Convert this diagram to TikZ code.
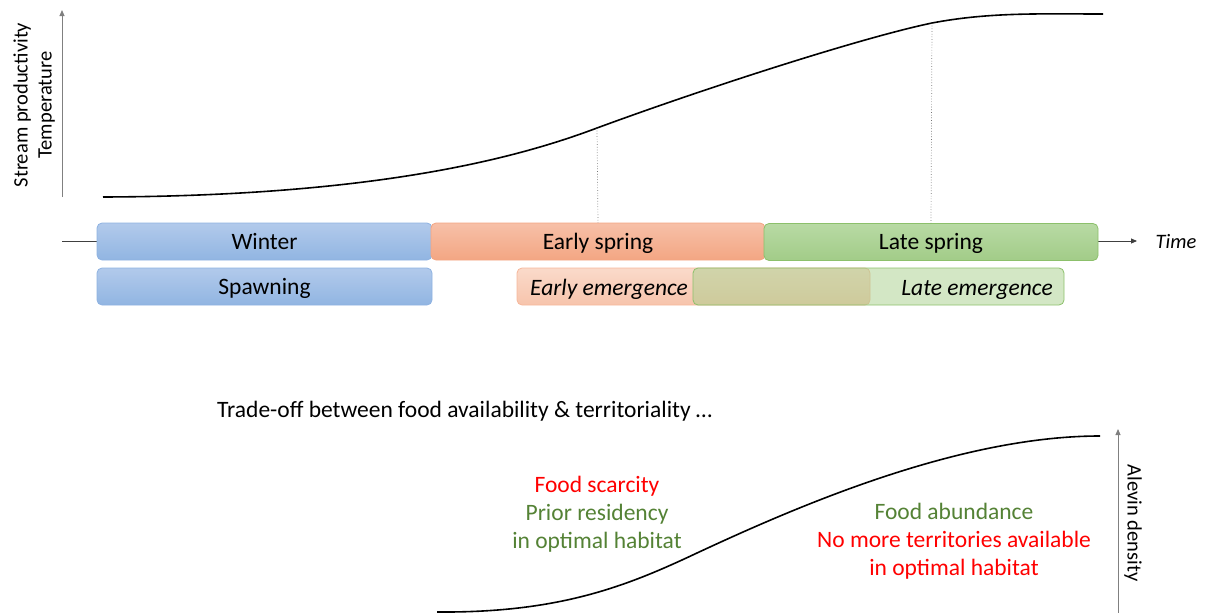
\documentclass[tikz,border=0pt]{standalone}
\usepackage{fontspec}
\setmainfont{Carlito}
\usetikzlibrary{arrows.meta}
\definecolor{winTop}{RGB}{178,202,235}
\definecolor{winBot}{RGB}{145,181,226}
\definecolor{winBd}{RGB}{142,178,225}
\definecolor{esTop}{RGB}{247,192,168}
\definecolor{esBot}{RGB}{243,166,131}
\definecolor{esBd}{RGB}{244,165,130}
\definecolor{lsTop}{RGB}{184,218,164}
\definecolor{lsBot}{RGB}{162,204,136}
\definecolor{lsBd}{RGB}{140,192,107}
\definecolor{eeTop}{RGB}{250,218,202}
\definecolor{eeBot}{RGB}{247,196,172}
\definecolor{leFill}{RGB}{168,208,140}
\definecolor{txtRed}{RGB}{255,0,0}
\definecolor{txtGreen}{RGB}{84,130,53}
\begin{document}
\begin{tikzpicture}[x=1pt,y=-1pt,
  lbl/.style={font=\fontsize{23.5}{28}\selectfont, inner sep=0pt, text height=16pt, text depth=1pt},
  axlbl/.style={font=\fontsize{20.5}{24}\selectfont, inner sep=0pt, text height=14pt, text depth=1pt},
  box/.style={rounded corners=5pt, minimum height=37pt, inner sep=0pt, line width=0.8pt, font=\fontsize{23.5}{28}\selectfont, text height=16pt, text depth=1pt},
  axis/.style={line width=0.9pt, -{Triangle[length=6pt,width=5pt]}},
  curve/.style={line width=1.6pt, black},
  guide/.style={black!55, dotted, line width=0.7pt}]
\useasboundingbox (0,0) rectangle (1205,613);

% time axis
\coordinate (tl) at (62,241);
\coordinate (tr) at (1137,241);
\draw[axis, black!75] (tl) -- (tr);
\node[axlbl, font=\fontsize{20.5}{24}\selectfont\itshape] (time) at (1176,242) {Time};

% upper y axis
\coordinate (yb) at (62,197);
\coordinate (yt) at (62,10);
\draw[axis, gray] (yb) -- (yt);
\node[axlbl, rotate=90] (sp) at (21,105) {Stream productivity};
\node[axlbl, rotate=90] (temp) at (45,105) {Temperature};

% upper curve
\coordinate (u0) at (103,197);
\coordinate (c1) at (597,128);
\coordinate (c2) at (932,23);
\coordinate (u1) at (1103,14);
\draw[curve] (u0) .. controls (380,196) and (520,157) .. (c1)
  .. controls (700,90) and (860,38) .. (c2)
  .. controls (990,12) and (1040,14) .. (u1);

% season boxes
\node[box, draw=winBd, top color=winTop, bottom color=winBot, minimum width=335pt] (winter) at (264.5,241.5) {Winter};
\node[box, draw=esBd, top color=esTop, bottom color=esBot, minimum width=334pt] (es) at (598,241.5) {Early spring};
\node[box, draw=lsBd, top color=lsTop, bottom color=lsBot, minimum width=334pt] (ls) at (931,242) {Late spring};

\draw[guide] (c1) -- (es.north);
\draw[guide] (c2) -- (ls.north);

% second row
\node[box, draw=winBd, top color=winTop, bottom color=winBot, minimum width=335pt] (spawn) at (264.5,286.5) {Spawning};
\node[box, draw=esBd!80, top color=eeTop, bottom color=eeBot, minimum width=353pt] (ee) at (693.5,286.5) {};
\node[box, draw=lsBd, fill=leFill, fill opacity=0.5, minimum width=371pt] (le) at (878.5,286.5) {};
\node[lbl, font=\fontsize{23.5}{28}\selectfont\itshape, anchor=west] (eetxt) at (530,287.5) {Early emergence};
\node[lbl, font=\fontsize{23.5}{28}\selectfont\itshape, anchor=east] (letxt) at (1053,287.5) {Late emergence};

% trade-off
\node[lbl, anchor=west] (trade) at (217,410) {Trade-off between food availability \& territoriality …};

% lower curve
\coordinate (l0) at (437,612);
\coordinate (lm) at (697,553);
\coordinate (l1) at (1100,436);
\draw[curve] (l0) .. controls (560,613) and (627,586) .. (lm)
  .. controls (800,505) and (960,436) .. (l1);

% lower axis
\coordinate (ab) at (1118,613);
\coordinate (at) at (1118,429);
\draw[axis, gray] (ab) -- (at);
\node[axlbl, rotate=-90] (alevin) at (1134,523) {Alevin density};

% annotations
\node[lbl, txtRed] (fs) at (597,485) {Food scarcity};
\node[lbl, txtGreen] (pr) at (597,513) {Prior residency};
\node[lbl, txtGreen] (oh1) at (597,541) {in optimal habitat};
\node[lbl, txtGreen] (fa) at (954,512) {Food abundance};
\node[lbl, txtRed] (nm) at (954,540) {No more territories available};
\node[lbl, txtRed] (oh2) at (954,568) {in optimal habitat};
\end{tikzpicture}
\end{document}
